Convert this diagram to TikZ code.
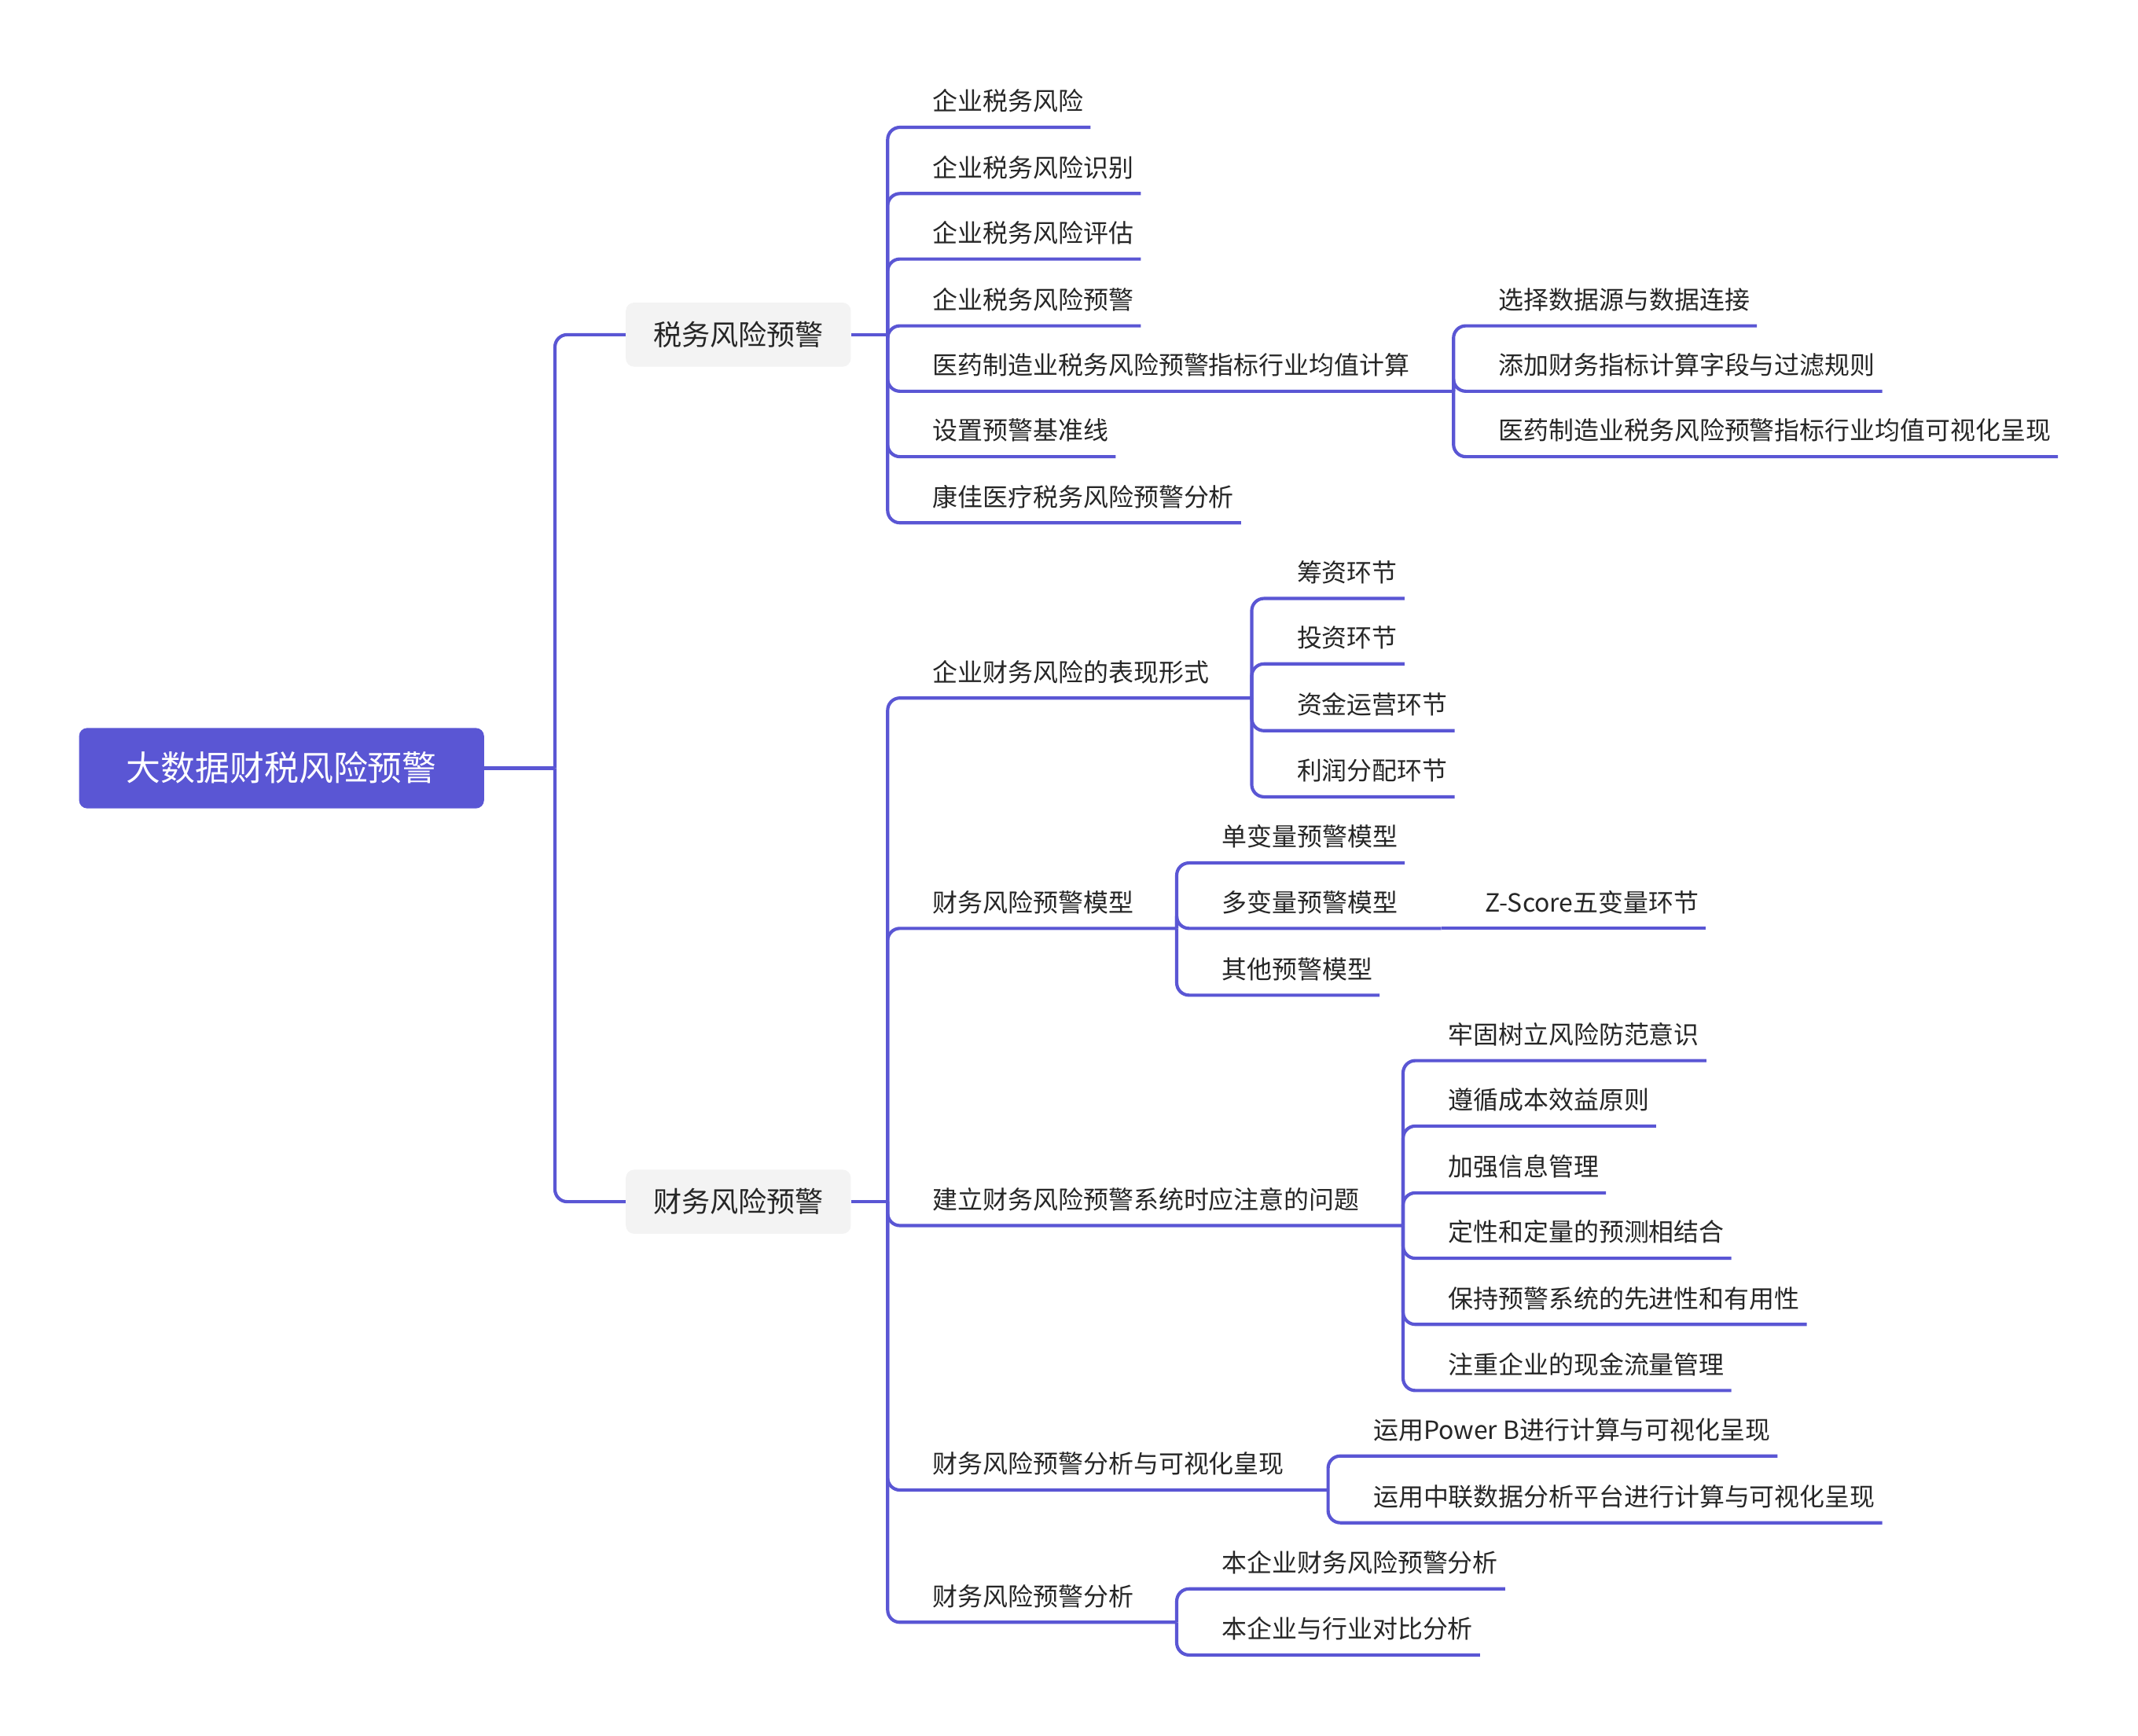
\documentclass[tikz,border=0pt]{standalone}
\usepackage{fontspec}
\setmainfont{Noto Sans CJK SC}
\usepackage{tikz}
\definecolor{mapline}{HTML}{5A56D4}
\definecolor{mapgray}{HTML}{F3F3F3}
\definecolor{maptext}{HTML}{262626}

\begin{document}
\begin{tikzpicture}[x=1pt,y=-1pt,
	link/.style={draw=mapline,line width=2.4pt,rounded corners=9pt},
	leaf/.style={anchor=south west,inner xsep=5pt,inner ysep=12pt,text height=15pt,text depth=0pt,text=maptext,font=\fontsize{18.4}{20}\selectfont},
	topic/.style={fill=mapgray,rounded corners=6pt,minimum width=165pt,minimum height=47pt,text height=18pt,text depth=2.5pt,text=maptext,font=\fontsize{20.8}{24}\selectfont}]
				\useasboundingbox (0,0) rectangle (1568,1273);
				
				\node (r) at (206.5,563.5) [fill=mapline,rounded corners=6pt,minimum width=297pt,minimum height=59pt,text height=22pt,text depth=3pt,text=white,font=\fontsize{25.3}{30}\selectfont] {大数据财税风险预警};
				\node (t) at (541.5,245.5) [topic] {税务风险预警};
				\node (f) at (541.5,881.5) [topic] {财务风险预警};
				
				\coordinate (rb) at (407,563.5);
				\coordinate (tb) at (651,245.5);
				\coordinate (fb) at (651,881.5);
				\coordinate (mb) at (1066,287);
				\coordinate (ab) at (918,512);
				\coordinate (bb) at (863,681);
				\coordinate (zb) at (1057,681);
				\coordinate (cb) at (1029,899);
				\coordinate (db) at (974,1093);
				\coordinate (eb) at (863,1190);
				
				\node (t1) at (679,93.4) [leaf] {企业税务风险};
				\node (t2) at (679,142) [leaf] {企业税务风险识别};
				\node (t3) at (679,190) [leaf] {企业税务风险评估};
				\node (t4) at (679,239) [leaf] {企业税务风险预警};
				\node (t5) at (679,287) [leaf] {医药制造业税务风险预警指标行业均值计算};
				\node (t6) at (679,335) [leaf] {设置预警基准线};
				\node (t7) at (679,383.5) [leaf] {康佳医疗税务风险预警分析};
				\node (m1) at (1094,239) [leaf] {选择数据源与数据连接};
				\node (m2) at (1094,287) [leaf] {添加财务指标计算字段与过滤规则};
				\node (m3) at (1094,335) [leaf] {医药制造业税务风险预警指标行业均值可视化呈现};
				
				\node (f1) at (679,512) [leaf] {企业财务风险的表现形式};
				\node (a1) at (946,439) [leaf] {筹资环节};
				\node (a2) at (946,487) [leaf] {投资环节};
				\node (a3) at (946,536) [leaf] {资金运营环节};
				\node (a4) at (946,584.5) [leaf] {利润分配环节};
				\node (f2) at (679,681) [leaf] {财务风险预警模型};
				\node (b1) at (891,633) [leaf] {单变量预警模型};
				\node (b2) at (891,681) [leaf] {多变量预警模型};
				\node (z1) at (1084,681) [leaf] {Z-Score五变量环节};
				\node (b3) at (891,730) [leaf] {其他预警模型};
				\node (f3) at (679,899) [leaf] {建立财务风险预警系统时应注意的问题};
				\node (c1) at (1057,778) [leaf] {牢固树立风险防范意识};
				\node (c2) at (1057,826) [leaf] {遵循成本效益原则};
				\node (c3) at (1057,875) [leaf] {加强信息管理};
				\node (c4) at (1057,923) [leaf] {定性和定量的预测相结合};
				\node (c5) at (1057,971.5) [leaf] {保持预警系统的先进性和有用性};
				\node (c6) at (1057,1020) [leaf] {注重企业的现金流量管理};
				\node (f4) at (679,1093) [leaf] {财务风险预警分析与可视化皇现};
				\node (d1) at (1002,1068) [leaf] {运用Power B进行计算与可视化呈现};
				\node (d2) at (1002,1117) [leaf] {运用中联数据分析平台进行计算与可视化呈现};
				\node (f5) at (679,1190) [leaf] {财务风险预警分析};
				\node (e1) at (891,1165.5) [leaf] {本企业财务风险预警分析};
				\node (e2) at (891,1214) [leaf] {本企业与行业对比分析};
				
				\draw[link] (r.east) -- (rb);
				\draw[link] (rb) |- (t.west);
				\draw[link] (rb) |- (f.west);
				\draw[link] (t.east) -- (tb);
				\draw[link] (f.east) -- (fb);
				
				\draw[link] (tb) |- (t1.south west) -- (t1.south east);
				\draw[link] (tb) |- (t2.south west) -- (t2.south east);
				\draw[link] (tb) |- (t3.south west) -- (t3.south east);
				\draw[link] (tb) |- (t4.south west) -- (t4.south east);
				\draw[link] (tb) |- (t5.south west) -- (mb);
				\draw[link] (tb) |- (t6.south west) -- (t6.south east);
				\draw[link] (tb) |- (t7.south west) -- (t7.south east);
				\draw[link] (mb) |- (m1.south west) -- (m1.south east);
				\draw[link] (mb) |- (m2.south west) -- (m2.south east);
				\draw[link] (mb) |- (m3.south west) -- (m3.south east);
				
				\draw[link] (fb) |- (f1.south west) -- (ab);
				\draw[link] (fb) |- (f2.south west) -- (bb);
				\draw[link] (fb) |- (f3.south west) -- (cb);
				\draw[link] (fb) |- (f4.south west) -- (db);
				\draw[link] (fb) |- (f5.south west) -- (eb);
				\draw[link] (ab) |- (a1.south west) -- (a1.south east);
				\draw[link] (ab) |- (a2.south west) -- (a2.south east);
				\draw[link] (ab) |- (a3.south west) -- (a3.south east);
				\draw[link] (ab) |- (a4.south west) -- (a4.south east);
				\draw[link] (bb) |- (b1.south west) -- (b1.south east);
				\draw[link] (bb) |- (b2.south west) -- (zb);
				\draw[link] (bb) |- (b3.south west) -- (b3.south east);
				\draw[link] (zb) -- (z1.south east);
				\draw[link] (cb) |- (c1.south west) -- (c1.south east);
				\draw[link] (cb) |- (c2.south west) -- (c2.south east);
				\draw[link] (cb) |- (c3.south west) -- (c3.south east);
				\draw[link] (cb) |- (c4.south west) -- (c4.south east);
				\draw[link] (cb) |- (c5.south west) -- (c5.south east);
				\draw[link] (cb) |- (c6.south west) -- (c6.south east);
				\draw[link] (db) |- (d1.south west) -- (d1.south east);
				\draw[link] (db) |- (d2.south west) -- (d2.south east);
				\draw[link] (eb) |- (e1.south west) -- (e1.south east);
				\draw[link] (eb) |- (e2.south west) -- (e2.south east);
			\end{tikzpicture}
\end{document}
